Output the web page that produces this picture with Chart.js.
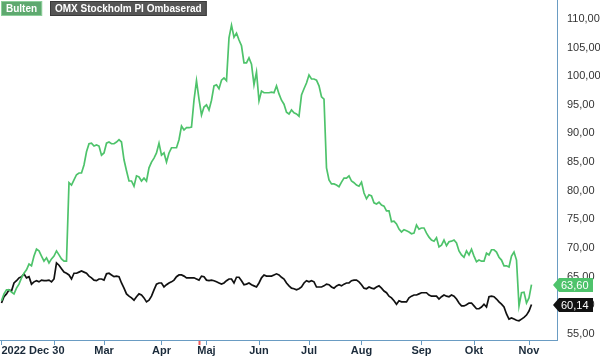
<!DOCTYPE html>
<html>
<head>
<meta charset="utf-8">
<script src="https://cdn.jsdelivr.net/npm/chart.js@4.4.1/dist/chart.umd.min.js"></script>
<style>
  html, body { margin: 0; padding: 0; background: #fff; }
  canvas { display: block; }
</style>
</head>
<body>
<canvas id="chart" width="600" height="356"></canvas>
<script>
// one value per trading day, starting 2022-12-30
const bulten = [
  60.8, 62.0, 62.7, 62.7, 62.3, 62.0, 63.0, 63.7, 64.8, 65.6,
  66.2, 67.2, 66.9, 68.6, 69.8, 69.5, 68.6, 67.7, 68.3, 67.4,
  68.1, 68.6, 69.5, 68.8, 68.1, 67.7, 67.7, 81.4, 81.0, 81.9,
  82.8, 83.1, 83.1, 84.5, 86.8, 88.2, 88.3, 87.8, 88.0, 87.8,
  86.2, 86.6, 88.3, 88.5, 88.2, 88.2, 88.5, 88.9, 88.5, 85.4,
  83.5, 81.7, 81.7, 80.8, 82.6, 82.4, 81.7, 82.2, 81.7, 84.0,
  85.0, 85.7, 86.6, 88.3, 86.2, 86.6, 85.0, 86.6, 87.5, 87.5,
  87.5, 88.9, 91.3, 90.6, 91.0, 91.0, 91.1, 95.8, 99.2, 96.0,
  93.2, 94.6, 95.0, 94.1, 95.8, 98.3, 98.5, 97.8, 99.3, 99.7,
  99.2, 106.7, 108.9, 106.8, 107.5, 106.3, 105.3, 102.3, 102.3, 103.2,
  102.1, 98.5, 100.7, 95.7, 97.4, 97.1, 97.1, 97.1, 97.2, 97.1,
  98.3, 96.9, 95.8, 95.1, 93.7, 93.4, 94.1, 93.6, 93.4, 93.0,
  96.7, 97.8, 98.8, 100.2, 99.5, 99.5, 99.3, 98.3, 96.4, 96.0,
  84.0, 81.9, 81.2, 81.2, 81.0, 80.7, 81.5, 82.2, 82.2, 82.6,
  81.7, 81.4, 81.0, 80.8, 81.5, 79.6, 78.6, 79.3, 79.1, 77.9,
  77.7, 78.0, 77.5, 77.3, 76.5, 76.5, 74.6, 74.7, 74.2, 73.3,
  72.8, 73.2, 73.0, 72.8, 72.5, 72.6, 74.0, 73.3, 73.5, 73.5,
  72.6, 71.9, 71.4, 71.2, 71.8, 70.2, 70.5, 71.4, 70.4, 71.1,
  71.2, 71.4, 70.9, 69.5, 68.8, 68.4, 69.5, 68.8, 69.8, 68.6,
  67.6, 67.9, 67.7, 67.7, 69.1, 68.8, 69.7, 69.7, 69.3, 68.4,
  67.9, 66.9, 66.9, 66.7, 68.6, 69.3, 67.9, 59.9, 62.2, 62.3,
  60.4, 61.3, 63.6
];

const omx = [
  60.4, 61.5, 62.0, 62.7, 62.5, 63.9, 64.3, 64.8, 65.0, 65.5,
  64.8, 65.0, 63.7, 64.1, 64.3, 64.1, 64.4, 64.3, 64.3, 64.4,
  64.1, 64.6, 67.4, 67.0, 66.4, 65.8, 65.6, 65.3, 64.6, 65.6,
  65.6, 65.8, 66.0, 65.8, 65.6, 65.1, 64.8, 64.4, 64.3, 64.6,
  64.6, 64.4, 65.5, 65.6, 65.3, 65.0, 65.1, 65.0, 63.9, 63.0,
  62.0, 61.6, 61.3, 60.9, 61.5, 62.0, 61.8, 61.3, 60.6, 60.9,
  61.6, 62.7, 63.7, 63.9, 63.9, 63.2, 63.6, 63.9, 64.1, 64.4,
  65.0, 65.3, 65.3, 65.1, 64.8, 64.8, 64.8, 64.8, 64.6, 64.4,
  65.1, 65.0, 64.4, 64.3, 64.4, 64.3, 64.1, 63.9, 63.7, 63.9,
  64.3, 64.6, 64.6, 63.9, 64.9, 64.9, 64.3, 63.6, 63.7, 63.9,
  63.6, 63.4, 63.2, 63.9, 64.8, 65.3, 65.1, 65.1, 65.1, 65.3,
  65.5, 65.3, 64.9, 64.6, 63.9, 63.4, 63.0, 62.9, 62.7, 62.9,
  63.2, 63.9, 64.3, 64.1, 64.3, 64.1, 63.2, 63.2, 63.2, 63.4,
  63.7, 63.6, 63.2, 63.0, 63.4, 63.6, 63.4, 63.7, 63.9, 63.9,
  64.3, 64.4, 64.4, 64.1, 63.6, 63.0, 62.9, 63.2, 63.0, 62.9,
  63.2, 63.4, 63.0, 62.5, 62.2, 61.6, 61.3, 60.8, 60.2, 60.8,
  60.6, 60.6, 60.6, 61.3, 61.6, 61.8, 61.8, 62.0, 62.2, 62.2,
  62.2, 61.8, 61.6, 61.6, 61.6, 61.1, 61.5, 61.8, 61.6, 61.5,
  61.8, 61.6, 61.1, 60.4, 59.9, 59.9, 60.1, 60.4, 60.4, 59.9,
  59.4, 59.4, 59.7, 60.2, 59.7, 61.5, 61.6, 61.5, 61.1, 60.6,
  60.2, 59.7, 58.5, 57.6, 57.8, 57.6, 57.4, 57.3, 57.6, 57.9,
  58.3, 59.0, 60.14
];

// trading-day index where each month starts, and its label
const monthDays = [0, 21, 41, 64, 82, 103, 123, 144, 168, 189, 211];
const monthLabels = ['2022 Dec 30', '', 'Mar', 'Apr', 'Maj', 'Jun', 'Jul', 'Aug', 'Sep', 'Okt', 'Nov'];
const markerDay = 79;
const yTicks = [55, 60, 65, 70, 75, 80, 85, 90, 95, 100, 105, 110];

const green = '#4ec36b';
const axisBlue = '#6a9cc3';
const xMin = -0.6, xMax = 222.2;

const fmt = v => v.toFixed(2).replace('.', ',');

const legendBoxes = {
  id: 'legendBoxes',
  afterDraw(chart) {
    const ctx = chart.ctx;
    ctx.save();
    ctx.font = 'bold 10px "Liberation Sans", Arial, sans-serif';
    ctx.textBaseline = 'middle';
    const items = [
      { text: 'Bulten', x: 1, fill: '#5ea96f', edge: '#8ccf9a' },
      { text: 'OMX Stockholm PI Ombaserad', x: 50, fill: '#555555', edge: '#3a3a3a' }
    ];
    items.forEach(it => {
      const w = ctx.measureText(it.text).width + 10;
      ctx.fillStyle = it.fill;
      ctx.fillRect(it.x, 1, w, 15);
      ctx.strokeStyle = it.edge;
      ctx.lineWidth = 1;
      ctx.strokeRect(it.x + 0.5, 1.5, w - 1, 14);
      ctx.fillStyle = '#ffffff';
      ctx.fillText(it.text, it.x + 5, 9);
    });
    ctx.restore();
  }
};

const endLabels = {
  id: 'endLabels',
  afterDraw(chart) {
    const ctx = chart.ctx;
    const area = chart.chartArea;
    const yScale = chart.scales.y;
    ctx.save();
    ctx.font = '11px "Liberation Sans", Arial, sans-serif';
    ctx.textBaseline = 'middle';
    chart.data.datasets.forEach(ds => {
      const last = ds.data[ds.data.length - 1].y;
      const y = Math.round(yScale.getPixelForValue(last));
      const tip = area.right - 4;
      const left = tip + 6;
      const right = 593;
      ctx.beginPath();
      ctx.moveTo(tip, y);
      ctx.lineTo(left, y - 7);
      ctx.lineTo(right, y - 7);
      ctx.lineTo(right, y + 7);
      ctx.lineTo(left, y + 7);
      ctx.closePath();
      ctx.fillStyle = ds.borderColor;
      ctx.fill();
      ctx.fillStyle = '#ffffff';
      ctx.fillText(fmt(last), left + 2, y + 0.5);
    });
    ctx.restore();
  }
};

new Chart(document.getElementById('chart'), {
  type: 'line',
  data: {
    datasets: [
      {
        label: 'Bulten',
        data: bulten.map((v, i) => ({ x: i, y: v })),
        borderColor: green,
        borderWidth: 1.7,
        pointRadius: 0,
        tension: 0
      },
      {
        label: 'OMX Stockholm PI Ombaserad',
        data: omx.map((v, i) => ({ x: i, y: v })),
        borderColor: '#111111',
        borderWidth: 1.7,
        pointRadius: 0,
        tension: 0
      }
    ]
  },
  options: {
    responsive: false,
    animation: false,
    devicePixelRatio: 1,
    layout: { padding: 0 },
    plugins: {
      legend: { display: false },
      tooltip: { enabled: false }
    },
    scales: {
      x: {
        type: 'linear',
        min: xMin,
        max: xMax,
        afterBuildTicks: scale => {
          scale.ticks = monthDays.map(d => ({ value: d }))
            .concat([{ value: markerDay }, { value: xMax }]);
        },
        afterFit: scale => {
          scale.height = 16;
          scale.paddingLeft = 0;
          scale.paddingRight = 0;
        },
        grid: {
          display: true,
          drawOnChartArea: false,
          drawTicks: true,
          tickLength: 5,
          tickColor: c => {
            const v = c.tick ? c.tick.value : null;
            if (v === markerDay) return '#f05a5a';
            if (v === xMax) return 'rgba(0,0,0,0)';
            return axisBlue;
          },
          tickWidth: c => (c.tick && c.tick.value === markerDay ? 2 : 1)
        },
        border: { display: true, color: axisBlue, width: 1 },
        ticks: {
          autoSkip: false,
          maxRotation: 0,
          align: 'inner',
          padding: 0,
          color: '#1a2a3a',
          font: { family: '"Liberation Sans", Arial, sans-serif', size: 11, weight: 'bold', lineHeight: 1 },
          callback: value => {
            const k = monthDays.indexOf(value);
            return k >= 0 ? monthLabels[k] : '';
          }
        }
      },
      y: {
        position: 'right',
        min: 53.95,
        max: 113.29,
        afterBuildTicks: scale => {
          scale.ticks = yTicks.map(v => ({ value: v }));
        },
        afterFit: scale => {
          scale.width = 43;
          scale.paddingTop = 0;
          scale.paddingBottom = 0;
        },
        grid: { display: false, drawTicks: false },
        border: { display: true, color: axisBlue, width: 1 },
        ticks: {
          padding: 10,
          color: '#333333',
          font: { family: '"Liberation Sans", Arial, sans-serif', size: 11 },
          callback: value => fmt(value)
        }
      }
    }
  },
  plugins: [legendBoxes, endLabels]
});
</script>
</body>
</html>
